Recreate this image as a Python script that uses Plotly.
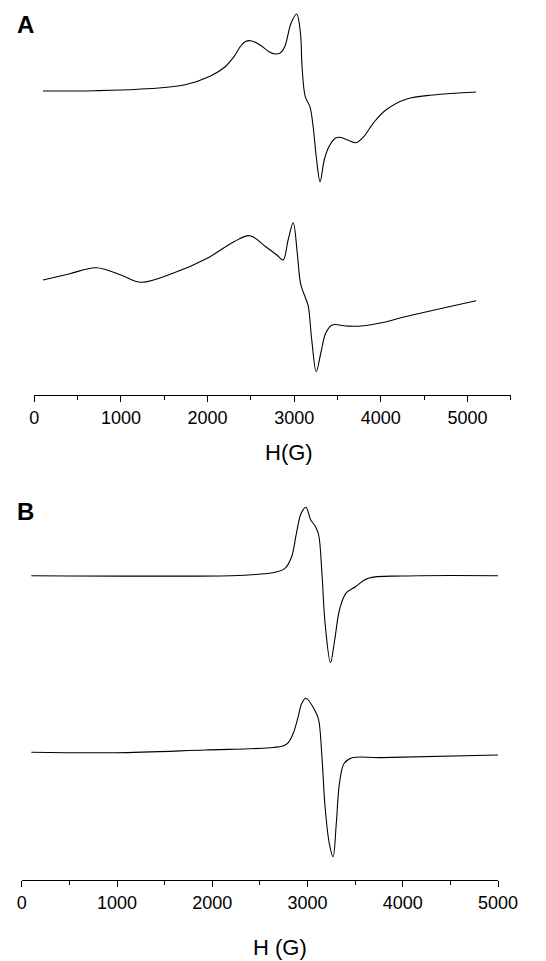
import plotly.graph_objects as go

# ---------------- data (field in G, intensity in arbitrary units) ----------------
A1_H = [100, 700, 1195, 1730, 2035, 2200, 2305, 2378, 2434, 2496, 2562, 2635, 2709, 2781,
        2840, 2891, 2964, 3029, 3073, 3091, 3128, 3182, 3219, 3255, 3299, 3347, 3401, 3474,
        3529, 3620, 3712, 3803, 3912, 4058, 4300, 4600, 5100]
A1_I = [0, 0.3, 1.7, 6, 15, 24, 34.3, 44.3, 49.3, 50.3, 48.3, 44.3, 39.3, 37,
        38, 44.3, 67.7, 77, 57.7, 24.3, -5.7, -15.7, -35.7, -65.7, -90.7, -69, -55.7, -47.3,
        -46.3, -49, -51.7, -45.7, -32.3, -19, -8, -4, -1]

A2_H = [100, 400, 715, 1000, 1232, 1600, 1997, 2305, 2489, 2672, 2800, 2872, 2930, 2989,
        3036, 3073, 3109, 3140, 3164, 3203, 3255, 3310, 3365, 3438, 3600, 3773, 4067, 4254, 5100]
A2_I = [0, 6, 12.3, 5, -2.3, 6.7, 21.7, 38.3, 44.3, 33.3, 25, 20, 40, 57.3,
        26.7, -3.3, -13, -20, -26.7, -60, -91.7, -72, -53, -45, -46, -46, -41.7, -37.3, -20.7]

B1_H = [100, 2200, 2477, 2660, 2760, 2833, 2883, 2933, 2983, 3034, 3084, 3117, 3151, 3184,
        3241, 3285, 3335, 3402, 3503, 3637, 4008, 5000]
B1_I = [0, 0, 1.4, 3.5, 7, 19, 42.4, 62.4, 68.4, 55.7, 49, 40.7, 2.7, -47.3,
        -87, -64.3, -34.3, -17.6, -11, -2.6, -0.3, 0]

B2_H = [100, 981, 1921, 2600, 2749, 2800, 2850, 2900, 2940, 2983, 3084, 3117, 3151, 3184,
        3228, 3268, 3302, 3335, 3385, 3469, 3770, 5000]
B2_I = [0, -0.4, 2.3, 4.5, 6.5, 10, 19, 35, 49, 54, 40.6, 32.3, -4.4, -54.4,
        -91, -104.4, -71, -31, -11, -5.5, -5.3, -2.7]

# vertical stacking offsets (in panel units)
OFF_A1, OFF_A2 = 304, 115
OFF_B1, OFF_B2 = 304.3, 127.7

W, H = 546, 961
FONT = "Liberation Sans, Arial, Helvetica, sans-serif"

fig = go.Figure()


def add(h, i, off, xa, ya):
    fig.add_trace(go.Scatter(
        x=h, y=[v + off for v in i], mode="lines",
        line=dict(color="black", width=1.1, shape="spline", smoothing=1.0),
        xaxis=xa, yaxis=ya, showlegend=False, hoverinfo="skip"))


add(A1_H, A1_I, OFF_A1, "x", "y")
add(A2_H, A2_I, OFF_A2, "x", "y")
add(B1_H, B1_I, OFF_B1, "x2", "y2")
add(B2_H, B2_I, OFF_B2, "x2", "y2")

axis_common = dict(
    showline=True, linecolor="black", linewidth=1.3,
    ticks="outside", ticklen=6, tickwidth=1.2, tickcolor="black",
    tick0=0, dtick=1000, showgrid=False, zeroline=False,
    tickfont=dict(family=FONT, size=18, color="black"),
    minor=dict(ticks="outside", dtick=500, tick0=0, ticklen=4, tickwidth=1.2,
               tickcolor="black", showgrid=False),
)

fig.update_layout(
    width=W, height=H,
    margin=dict(l=0, r=0, t=0, b=0),
    paper_bgcolor="white", plot_bgcolor="white",
    xaxis=dict(domain=[30.7 / W, 530 / W], range=[0, 5500], anchor="y", **axis_common),
    yaxis=dict(domain=[(H - 395) / H, (H - 5) / H], range=[0, 390], visible=False, anchor="x"),
    xaxis2=dict(domain=[17.6 / W, 516.7 / W], range=[0, 5000], anchor="y2", **axis_common),
    yaxis2=dict(domain=[(H - 880) / H, (H - 490) / H], range=[0, 390], visible=False, anchor="x2"),
    annotations=[
        dict(text="<b>A</b>", x=21.9 / W, y=1 - 24.7 / H, xref="paper", yref="paper",
             showarrow=False, font=dict(family=FONT, size=24, color="black"),
             xanchor="center", yanchor="middle"),
        dict(text="<b>B</b>", x=21.4 / W, y=1 - 511 / H, xref="paper", yref="paper",
             showarrow=False, font=dict(family=FONT, size=24, color="black"),
             xanchor="center", yanchor="middle"),
        dict(text="H(G)", x=297.5 / W, y=1 - 452.6 / H, xref="paper", yref="paper",
             showarrow=False, font=dict(family=FONT, size=22, color="black"),
             xanchor="center", yanchor="middle"),
        dict(text="H (G)", x=288.3 / W, y=1 - 947.3 / H, xref="paper", yref="paper",
             showarrow=False, font=dict(family=FONT, size=22, color="black"),
             xanchor="center", yanchor="middle"),
    ],
)

fig.write_html(
    "out.html",
    config={"displayModeBar": False, "responsive": False},
    post_script="document.body.style.margin='0';document.body.style.padding='0';"
                "document.documentElement.style.overflow='hidden';",
)
